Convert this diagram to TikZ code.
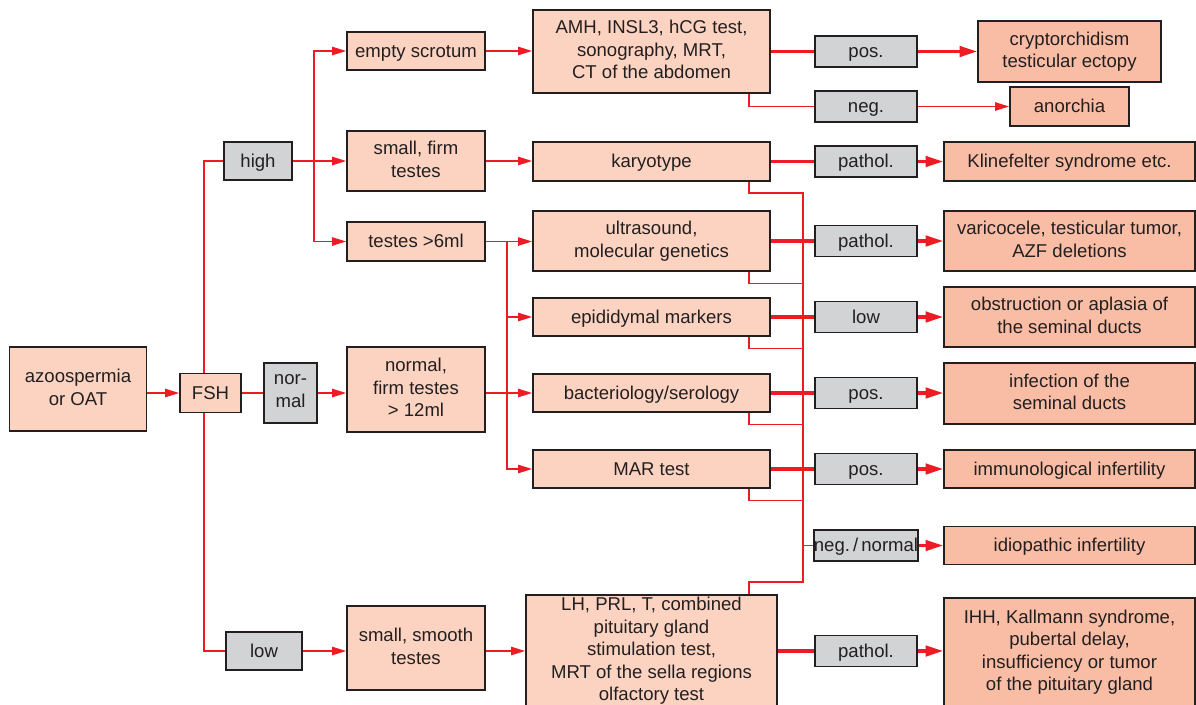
\documentclass[tikz,border=0pt]{standalone}
\usepackage{fontspec}
\setmainfont{Liberation Sans}
\usetikzlibrary{arrows.meta,calc}
\definecolor{palebox}{HTML}{FCD3C1}
\definecolor{findbox}{HTML}{F9BDA5}
\definecolor{testgrey}{HTML}{D1D3D4}
\definecolor{linered}{HTML}{ED1C24}
\definecolor{ink}{HTML}{231F20}
\newcommand\linestrut{\rule[-0.212em]{0pt}{1.117em}}
\begin{document}
\begin{tikzpicture}[x=0.025cm, y=-0.025cm,
    box/.style 2 args={draw=ink, line width=1.3pt, text=ink, align=center, inner sep=0pt,
      minimum width=#1*0.025cm, minimum height=#2*0.025cm, font=\fontsize{13.2}{16}\selectfont,
      execute at begin node=\linestrut, execute at end node=\linestrut},
    pale/.style 2 args={box={#1}{#2}, fill=palebox},
    cond/.style 2 args={box={#1}{#2}, fill=testgrey},
    find/.style 2 args={box={#1}{#2}, fill=findbox},
    link/.style={draw=linered, line width=0.9pt},
    flow/.style={link, -{Triangle[length=10pt,width=6pt]}},
    thickred/.style={draw=linered, line width=2.2pt},
    hit/.style={thickred, -{Triangle[length=12.5pt,width=7.5pt]}}]
    \clip (0,0) rectangle (1196,704);

    \node[pale={137}{84}] (azoo) at (78,389) {azoospermia\\or OAT};
    \node[pale={61}{39}] (fsh) at (210.5,393) {FSH};
    \node[cond={53}{60}] (nor) at (290.5,393) {nor-\\mal};
    \node[cond={68}{38}] (high) at (258,161) {high};
    \node[cond={76}{38}] (low) at (264,651) {low};

    \node[pale={138}{38}] (scrotum) at (416,51) {empty scrotum};
    \node[pale={138}{60}] (firm) at (416,161) {small, firm\\testes};
    \node[pale={138}{39}] (six) at (416,241.5) {testes >6ml};
    \node[pale={138}{85}] (normal) at (416,389.5) {normal,\\firm testes\\> 12ml};
    \node[pale={138}{84}] (smooth) at (416,648) {small, smooth\\testes};

    \node[pale={237}{83}] (amh) at (651.5,51.5) {AMH, INSL3, hCG test,\\sonography, MRT,\\CT of the abdomen};
    \node[pale={237}{39}] (karyo) at (651.5,161.5) {karyotype};
    \node[pale={237}{60}] (ultra) at (651.5,241) {ultrasound,\\molecular genetics};
    \node[pale={237}{38}] (epid) at (651.5,317) {epididymal markers};
    \node[pale={237}{38}] (bact) at (651.5,393) {bacteriology/serology};
    \node[pale={237}{38}] (mar) at (651.5,469) {MAR test};
    \node[pale={251}{112}] (lh) at (651.5,651) {LH, PRL, T, combined\\pituitary gland\\stimulation test,\\MRT of the sella regions\\olfactory test};

    \node[cond={102}{31}] (pos1) at (866,51.5) {pos.};
    \node[cond={102}{31}] (neg) at (866,106.5) {neg.};
    \node[cond={102}{31}] (patha) at (866,161.5) {pathol.};
    \node[cond={102}{31}] (pathb) at (866,241) {pathol.};
    \node[cond={102}{31}] (lowres) at (866,317) {low};
    \node[cond={102}{31}] (posb) at (866,393) {pos.};
    \node[cond={102}{31}] (posc) at (866,469) {pos.};
    \node[cond={102}{31}] (negnorm) at (866,545.5) {neg.\,/\,normal};
    \node[cond={102}{31}] (pathc) at (866,651) {pathol.};

    \node[find={183}{61}] (crypt) at (1069.5,51.5) {cryptorchidism\\testicular ectopy};
    \node[find={119}{39}] (anorch) at (1069.5,106.5) {anorchia};
    \node[find={251}{39}] (kline) at (1069.5,161.5) {Klinefelter syndrome etc.};
    \node[find={251}{60}] (vari) at (1069.5,241) {varicocele, testicular tumor,\\AZF deletions};
    \node[find={251}{60}] (obstr) at (1069.5,317) {obstruction or aplasia of\\the seminal ducts};
    \node[find={251}{61}] (infect) at (1069.5,393.5) {infection of the\\seminal ducts};
    \node[find={251}{38}] (immun) at (1069.5,469) {immunological infertility};
    \node[find={251}{38}] (idio) at (1069.5,545.5) {idiopathic infertility};
    \node[find={251}{108}] (ihh) at (1069.5,652) {IHH, Kallmann syndrome,\\pubertal delay,\\insufficiency or tumor\\of the pituitary gland};

    \coordinate (fv) at (204,393);
    \coordinate (hj) at (314,161);
    \coordinate (sj) at (507,241);
    \coordinate (dx) at (749,0);
    \coordinate (cx) at (803,0);

    \draw[flow] (azoo.east |- fsh) -- (fsh.west);
    \draw[link] (fsh.east) -- (nor.west);
    \draw[flow] (nor.east) -- (normal.west |- nor.east);
    \draw[link] (fv |- fsh.north) |- (high.west);
    \draw[link] (fv |- fsh.south) |- (low.west);
    \draw[flow] (low.east) -- (smooth.west |- low.east);
    \draw[flow] (smooth.east |- low) -- (lh.west |- low);

    \draw[flow] (high.east) -- (firm.west);
    \draw[flow] (hj) |- (scrotum.west);
    \draw[flow] (hj) |- (six.west);
    \draw[flow] (scrotum.east) -- (amh.west |- scrotum.east);
    \draw[flow] (firm.east) -- (karyo.west |- firm.east);
    \draw[flow] (six.east) -- (ultra.west |- six.east);
    \foreach \t in {epid,bact,mar}
        \draw[flow] (sj) |- (\t.west);
    \draw[link] (normal.east |- bact) -- (sj |- bact);

    \draw[link] (amh.south -| dx) |- (neg.west);
    \draw[flow] (neg.east) -- (anorch.west);
    \draw[link] (karyo.south -| dx) |- ($(karyo.south -| cx)+(0,11)$) -- ($(lh.north -| cx)+(0,-12)$) -| (lh.north -| dx);
    \foreach \t in {ultra,epid,bact,mar}
        \draw[link] (\t.south -| dx) |- ($(\t.south -| cx)+(0,11.5)$);
    \draw[link] (cx |- negnorm) -- (negnorm.west);
    \draw[hit] (negnorm.east) -- (idio.west);

    \draw[thickred] (amh.east |- pos1) -- (pos1.west);
    \draw[hit] (pos1.east) -- (crypt.west);
    \draw[thickred] (karyo.east) -- (patha.west);
    \draw[hit] (patha.east) -- (kline.west);
    \draw[thickred] (ultra.east) -- (pathb.west);
    \draw[hit] (pathb.east) -- (vari.west);
    \draw[thickred] (epid.east) -- (lowres.west);
    \draw[hit] (lowres.east) -- (obstr.west);
    \draw[thickred] (bact.east) -- (posb.west);
    \draw[hit] (posb.east) -- (infect.west |- posb);
    \draw[thickred] (mar.east) -- (posc.west);
    \draw[hit] (posc.east) -- (immun.west);
    \draw[thickred] (lh.east) -- (pathc.west);
    \draw[hit] (pathc.east) -- (ihh.west |- pathc);
\end{tikzpicture}
\end{document}
